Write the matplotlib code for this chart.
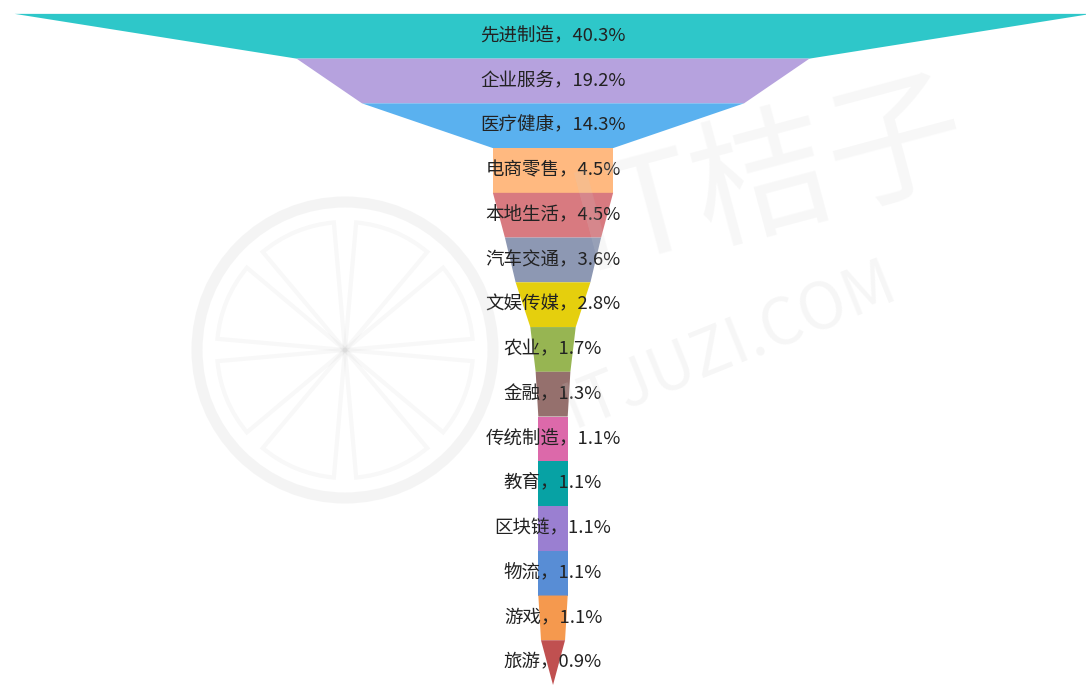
import numpy as np
import matplotlib.pyplot as plt
from matplotlib.patches import Circle, Wedge

plt.rcParams['font.family'] = ['Noto Sans CJK SC', 'DejaVu Sans']

# funnel data (share of deals, %)
categories = ["先进制造", "企业服务", "医疗健康", "电商零售", "本地生活", "汽车交通",
              "文娱传媒", "农业", "金融", "传统制造", "教育", "区块链", "物流", "游戏", "旅游"]
values = [40.3, 19.2, 14.3, 4.5, 4.5, 3.6, 2.8, 1.7, 1.3, 1.1, 1.1, 1.1, 1.1, 1.1, 0.9]
colors = ["#2ec7c9", "#b6a2de", "#5ab1ef", "#ffb980", "#d87a80", "#8d98b3", "#e5cf0d",
          "#97b552", "#95706d", "#dc69aa", "#07a2a4", "#9a7fd1", "#588dd5", "#f5994e", "#c05050"]

fig = plt.figure(figsize=(10.86, 6.85), dpi=100)
ax = fig.add_axes([0, 0, 1, 1])

n = len(values)
# each layer: top width = its value, bottom width = next value (last one ends in a point)
for i in range(n):
    top = values[i]
    bottom = values[i + 1] if i + 1 < n else 0
    xs = [-top / 2, top / 2, bottom / 2, -bottom / 2]
    ys = [i, i, i + 1, i + 1]
    ax.fill(xs, ys, color=colors[i], lw=0)
    ax.text(0, i + 0.5, f"{categories[i]}，{values[i]}%", ha="center", va="center",
            fontsize=13.3, color="#222222")

ax.set_xlim(-20.7, 19.95)
ax.set_ylim(15.0, -0.31)
ax.axis("off")

# faint watermark on top
wm = fig.add_axes([0, 0, 1, 1], zorder=5)
wm.set_xlim(0, 1086)
wm.set_ylim(685, 0)
wm.axis("off")
wm.patch.set_alpha(0)
wm_col = "#d0d0d0"
wm.add_patch(Circle((345, 350), 148, fill=False, lw=8, ec=wm_col, alpha=0.22))
for a in range(0, 360, 45):
    wm.add_patch(Wedge((345, 350), 128, a + 5, a + 40, fill=False, lw=3, ec=wm_col, alpha=0.15))
wm.text(770, 180, "IT桔子", fontsize=100, color=wm_col, alpha=0.16, rotation=15,
        ha="center", va="center")
wm.text(730, 345, "ITJUZI.COM", fontsize=46, color=wm_col, alpha=0.18, rotation=22,
        ha="center", va="center")

fig.savefig("out.png", dpi=100)
